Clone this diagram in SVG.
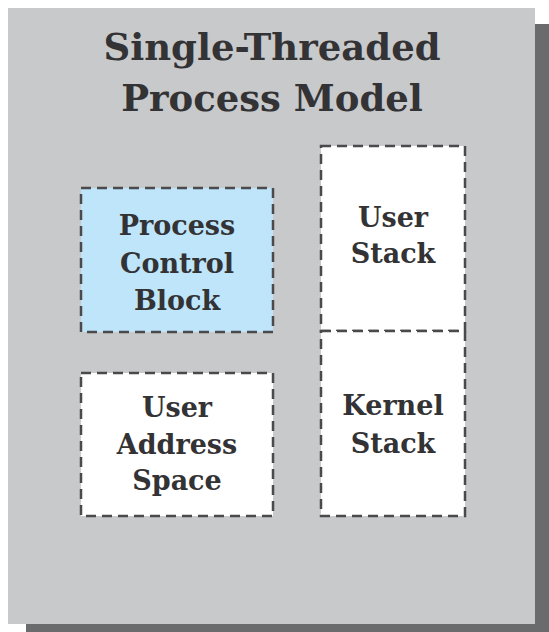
<svg xmlns="http://www.w3.org/2000/svg" width="549" height="632" viewBox="0 0 549 632">
  <style>
    .panel { fill: #c8c9cb; }
    .shadow { fill: #6a6b6d; }
    .part { stroke: #4a4a4c; stroke-width: 2.5; stroke-dasharray: 10 6; fill: #ffffff; }
    .pcb { fill: #bee5fa; }
    .title { font-family: "DejaVu Serif", "Liberation Serif", serif; font-weight: bold; font-size: 37px; fill: #333335; text-anchor: middle; }
    .label { font-family: "DejaVu Serif", "Liberation Serif", serif; font-weight: bold; font-size: 27px; fill: #333335; text-anchor: middle; }
  </style>

  <rect width="549" height="632" fill="#ffffff"/>

  <!-- drop shadow and panel -->
  <rect class="shadow" x="26" y="24" width="523" height="608"/>
  <rect class="panel" x="8" y="8" width="527" height="616"/>

  <g id="title">
    <text class="title" x="272" y="60">Single-Threaded</text>
    <text class="title" x="272" y="111">Process Model</text>
  </g>

  <g id="process-control-block">
    <rect class="part pcb" x="81" y="188" width="192" height="144"/>
    <text class="label" x="177" y="235">Process</text>
    <text class="label" x="177" y="273">Control</text>
    <text class="label" x="177" y="310">Block</text>
  </g>

  <g id="user-address-space">
    <rect class="part" x="81" y="373" width="192" height="143"/>
    <text class="label" x="177" y="417">User</text>
    <text class="label" x="177" y="454">Address</text>
    <text class="label" x="177" y="490">Space</text>
  </g>

  <g id="user-stack">
    <rect class="part" x="321" y="146" width="144" height="185"/>
    <text class="label" x="393" y="227">User</text>
    <text class="label" x="393" y="263">Stack</text>
  </g>

  <g id="kernel-stack">
    <rect class="part" x="321" y="331" width="144" height="185"/>
    <text class="label" x="393" y="415">Kernel</text>
    <text class="label" x="393" y="453">Stack</text>
  </g>

  <g id="connectors"></g>
</svg>
